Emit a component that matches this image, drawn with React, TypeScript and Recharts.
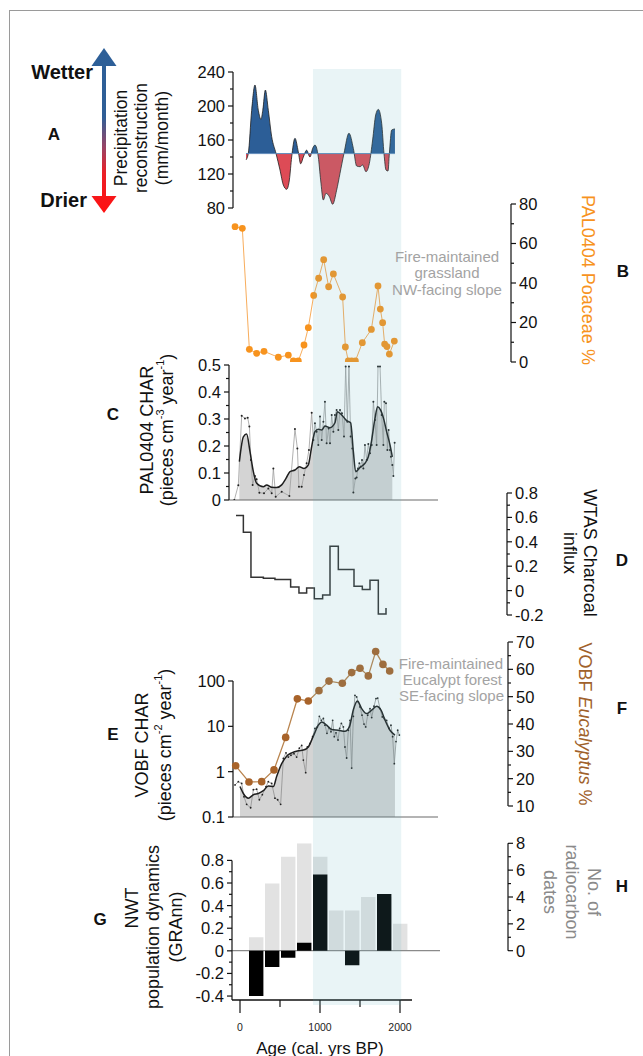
import React from 'react';
import { ComposedChart, Line, Area, Bar, XAxis, YAxis, ReferenceLine, ReferenceArea } from 'recharts';

const FONT = '"Liberation Sans", Arial, Helvetica, sans-serif';

// ---------- data (year BP, value) ----------
const precipitation: [number, number][] = [
  [75, 136.5], [104, 144.3], [146, 195], [187, 224.7], [229, 195], [262, 184.3], [285, 195], [317, 218.8],
  [354, 195], [396, 163.9], [450, 144.3], [500, 124.7], [542, 107], [583, 102], [617, 113], [646, 140],
  [687, 162], [729, 146], [758, 132], [792, 140], [833, 148], [875, 140], [908, 150], [937, 154],
  [979, 140], [1008, 113], [1042, 89.4], [1075, 97.3], [1117, 93.3], [1158, 84.4], [1208, 101],
  [1250, 120.8], [1300, 144.3], [1362, 168], [1417, 150], [1458, 129.4], [1500, 128.6], [1533, 130.6],
  [1575, 122.7], [1617, 132.6], [1658, 160], [1696, 189.4], [1729, 196], [1771, 179.6], [1800, 144],
  [1825, 124.7], [1850, 123.5], [1867, 144], [1896, 171.8], [1937, 173],
];
const precipMean = 144;

const poaceae: [number, number][] = [
  [-62, 68.5], [29, 67.7], [117, 6.4], [208, 4.4], [300, 5.4], [479, 2.4], [604, 3.5], [667, 0.5],
  [729, 0.5], [800, 8.6], [854, 17.4], [921, 33.7], [983, 42.4], [1046, 51.8], [1108, 38.1],
  [1167, 44.6], [1283, 32.9], [1317, 7.6], [1354, 0.5], [1396, 0.5], [1442, 0.5], [1529, 9.8],
  [1642, 16.5], [1725, 38.5], [1754, 26.8], [1783, 19.9], [1808, 9.1], [1837, 7.8], [1867, 4], [1929, 10.6],
];

const palCharRaw: [number, number][] = [
  [-71, 0], [-21, 0.055], [21, 0.312], [62, 0.302], [96, 0.305], [117, 0.272], [137, 0.148], [158, 0.056],
  [187, 0.089], [208, 0.077], [242, 0.027], [300, 0.025], [354, 0.043], [396, 0.025], [417, 0.117],
  [446, 0.012], [521, 0.031], [617, 0.015], [687, 0.263], [717, 0.191], [737, 0.049], [771, 0.049],
  [800, 0.093], [833, 0.136], [862, 0.185], [896, 0.323], [917, 0.222], [937, 0.284], [958, 0.253],
  [979, 0.204], [1000, 0.309], [1021, 0.222], [1042, 0.29], [1062, 0.364], [1083, 0.21], [1108, 0.265],
  [1125, 0.21], [1146, 0.315], [1167, 0.253], [1187, 0.315], [1208, 0.333], [1229, 0.259], [1250, 0.333],
  [1275, 0.321], [1300, 0.235], [1321, 0.494], [1342, 0.29], [1362, 0.494], [1383, 0.235], [1404, 0.191],
  [1417, 0.028], [1442, 0.08], [1458, 0.083], [1475, 0.117], [1492, 0.136], [1508, 0.123], [1525, 0.148],
  [1542, 0.117], [1562, 0.204], [1583, 0.148], [1604, 0.207], [1625, 0.173], [1646, 0.204], [1667, 0.364],
  [1687, 0.296], [1708, 0.204], [1725, 0.494], [1750, 0.494], [1771, 0.315], [1792, 0.204], [1804, 0.364],
  [1825, 0.358], [1842, 0.185], [1858, 0.259], [1875, 0.185], [1887, 0.16], [1904, 0.13], [1917, 0.089],
  [1933, 0.212],
];
const palCharSmooth: [number, number][] = [
  [-8, 0.142], [42, 0.234], [83, 0.244], [125, 0.179], [167, 0.105], [208, 0.062], [292, 0.049],
  [333, 0.056], [396, 0.047], [458, 0.046], [521, 0.056], [575, 0.08], [625, 0.105], [687, 0.111],
  [742, 0.123], [800, 0.117], [854, 0.13], [896, 0.198], [937, 0.253], [979, 0.262], [1021, 0.259],
  [1062, 0.274], [1125, 0.268], [1187, 0.286], [1217, 0.327], [1271, 0.315], [1333, 0.294], [1383, 0.286],
  [1417, 0.179], [1446, 0.105], [1500, 0.121], [1562, 0.136], [1604, 0.16], [1646, 0.222], [1687, 0.302],
  [1721, 0.345], [1758, 0.333], [1800, 0.296], [1833, 0.253], [1875, 0.204], [1904, 0.16],
];

const wtasInflux: [number, number][] = [
  [-50, 0.615], [42, 0.478], [137, 0.109], [292, 0.101], [437, 0.09], [633, 0.03], [737, -0.019],
  [833, 0.022], [929, -0.066], [1033, -0.036], [1125, 0.363], [1229, 0.172], [1425, 0.035],
  [1529, 0.008], [1625, 0.085], [1729, -0.191], [1825, -0.142],
];

const vobfCharRaw: [number, number][] = [
  [-62, 0.51], [-21, 0.6], [21, 0.55], [50, 0.28], [83, 0.19], [133, 0.16], [167, 0.4], [208, 0.41],
  [242, 0.24], [279, 0.31], [325, 0.47], [354, 0.6], [396, 0.55], [437, 0.26], [471, 0.24], [508, 0.19],
  [542, 1.96], [575, 2.6], [604, 2.1], [637, 2.3], [675, 2.5], [708, 2.1], [742, 3.3], [771, 3.8],
  [792, 1.8], [821, 0.95], [842, 3.5], [875, 4.2], [908, 5.9], [937, 9.0], [967, 9.7], [992, 16.6],
  [1017, 13.6], [1042, 14.9], [1062, 10.6], [1087, 7.0], [1112, 9.4], [1137, 7.6], [1158, 13.6],
  [1179, 5.9], [1200, 7.2], [1225, 5.0], [1246, 9.0], [1267, 11.6], [1292, 9.7], [1312, 3.5], [1333, 2.0],
  [1354, 8.2], [1375, 13.6], [1396, 1.2], [1417, 16.6], [1437, 48.4], [1458, 44.5], [1479, 34.6],
  [1500, 26.8], [1525, 17.6], [1550, 11.2], [1571, 9.7], [1596, 17.6], [1625, 24.6], [1646, 15.6],
  [1675, 27.8], [1700, 41], [1721, 42], [1750, 24.6], [1779, 16.1], [1804, 14.9], [1833, 13.6],
  [1862, 9.0], [1887, 10.6], [1908, 5.9], [1929, 1.5], [1950, 4.6], [1971, 8.2], [1992, 6.4],
];
const vobfCharSmooth: [number, number][] = [
  [0, 0.47], [42, 0.33], [104, 0.26], [167, 0.31], [229, 0.33], [292, 0.38], [354, 0.48], [417, 0.47],
  [458, 0.78], [521, 1.5], [583, 2.2], [646, 2.6], [729, 2.9], [792, 3.0], [854, 3.5], [917, 6.1],
  [979, 10.6], [1021, 12.5], [1083, 10.6], [1146, 8.5], [1229, 8.2], [1312, 7.8], [1367, 9.7],
  [1417, 23.4], [1467, 36.3], [1521, 24.6], [1583, 19.1], [1646, 22.7], [1708, 27.8], [1763, 22.7],
  [1813, 13.7], [1875, 8.2], [1937, 6.4],
];

const eucalyptus: [number, number][] = [
  [-54, 24.7], [112, 18.8], [271, 18.9], [425, 23.2], [571, 35.1], [717, 49.2], [854, 48.4], [987, 52.2],
  [1112, 55.7], [1279, 54.9], [1396, 58.8], [1500, 60.4], [1604, 57.6], [1696, 66.5], [1787, 61.8], [1871, 59.4],
];

const radiocarbonYears = [200, 400, 600, 800, 1000, 1200, 1400, 1600, 1800, 2000];
const radiocarbonDates = [1, 5, 7, 8, 7, 3, 3, 4, 4, 2];
const granYears = [200, 400, 600, 800, 1000, 1200, 1400, 1600, 1800];
const granValues = [-0.4, -0.144, -0.062, 0.071, 0.676, 0, -0.127, 0, 0.502];

const highlightBand = [912, 2015];

// ---------- ticks ----------
const aTicks = [80, 100, 120, 140, 160, 180, 200, 220, 240];
const aLabels = [80, 120, 160, 200, 240];
const bTicks = [0, 10, 20, 30, 40, 50, 60, 70, 80];
const bLabels = [0, 20, 40, 60, 80];
const cTicks = [0, 0.05, 0.1, 0.15, 0.2, 0.25, 0.3, 0.35, 0.4, 0.45, 0.5];
const cLabels = [0, 0.1, 0.2, 0.3, 0.4, 0.5];
const dTicks = [-0.2, -0.1, 0, 0.1, 0.2, 0.3, 0.4, 0.5, 0.6, 0.7, 0.8];
const dLabels = [-0.2, 0, 0.2, 0.4, 0.6, 0.8];
const eTicks = [0.1, 1, 10, 100];
const fTicks = [10, 15, 20, 25, 30, 35, 40, 45, 50, 55, 60, 65, 70];
const fLabels = [10, 20, 30, 40, 50, 60, 70];
const gTicks = [-0.4, -0.3, -0.2, -0.1, 0, 0.1, 0.2, 0.3, 0.4, 0.5, 0.6, 0.7, 0.8];
const gLabels = [-0.4, -0.2, 0, 0.2, 0.4, 0.6, 0.8];
const hTicks = [0, 1, 2, 3, 4, 5, 6, 7, 8];
const hLabels = [0, 2, 4, 6, 8];
const xTicks = [0, 500, 1000, 1500, 2000];
const xLabels = [0, 1000, 2000];

// ---------- helpers ----------
const toRows = (pairs: [number, number][]) => pairs.map(([yr, v]) => ({ yr, v }));
const zip = (xs: number[], vs: number[]) => xs.map((yr, i) => ({ yr, v: vs[i] }));

const X0 = 240; // pixel of year 0
const PX_PER_YR = 0.08;
const yrAt = (px: number) => (px - X0) / PX_PER_YR;
const AXW = 1; // y-axis box width

const fmtInt = (v: number) => String(Math.round(v));
const fmtDec = (v: number) => (Math.abs(v) < 1e-9 ? '0' : v.toFixed(1));
const fmtLog = (v: number) => (v < 1 ? '0.1' : String(v));

function makeTick(side: 'left' | 'right', labels: number[], fmt: (v: number) => string) {
  return (p: any) => {
    const v = p.payload.value;
    const major = labels.some((m) => Math.abs(m - v) < 1e-6);
    const dir = side === 'left' ? -1 : 1;
    const len = major ? 5 : 3;
    return (
      <g>
        <line x1={p.x} y1={p.y} x2={p.x + dir * len} y2={p.y} stroke="#111" strokeWidth={1.2} />
        {major && (
          <text x={p.x + dir * (len + 3)} y={p.y} dy="0.36em" textAnchor={side === 'left' ? 'end' : 'start'}
            fontSize={16.5} fontFamily={FONT} fill="#111">{fmt(v)}</text>
        )}
      </g>
    );
  };
}

const BottomTick = (p: any) => {
  const v = p.payload.value;
  const major = xLabels.includes(v);
  return (
    <g>
      <line x1={p.x} y1={p.y} x2={p.x} y2={p.y + (major ? 13 : 7)} stroke="#111" strokeWidth={1.2} />
      {major && (
        <text x={p.x} y={p.y + 27} dy="0.36em" textAnchor="middle" fontSize={10.5} fontFamily={FONT} fill="#222">{v}</text>
      )}
    </g>
  );
};

function yAxisEl(side: 'left' | 'right', domain: number[], ticks: number[], labels: number[], fmt: (v: number) => string, log = false) {
  return (
    <YAxis orientation={side} type="number" domain={domain} allowDataOverflow ticks={ticks} interval={0}
      width={AXW} tickSize={0} tickMargin={0} tickLine={false} scale={log ? 'log' : 'auto'}
      axisLine={{ stroke: '#111', strokeWidth: 1.2 }} tick={makeTick(side, labels, fmt)} />
  );
}

type PanelProps = {
  top: number; height: number; plotTop: number; plotBottom: number; left: number; right: number;
  side: 'left' | 'right'; data?: any[]; children: React.ReactNode;
};
function Panel({ top, height, plotTop, plotBottom, left, right, side, data, children }: PanelProps) {
  return (
    <div style={{ position: 'absolute', left: 0, top }}>
      <ComposedChart width={643} height={height} data={data}
        margin={{
          top: plotTop - top,
          bottom: top + height - plotBottom,
          left: side === 'left' ? left - AXW : left,
          right: side === 'right' ? 643 - right - AXW : 643 - right,
        }}>
        {children}
      </ComposedChart>
    </div>
  );
}

const hiddenX = (left: number, right: number) => (
  <XAxis type="number" dataKey="yr" domain={[yrAt(left), yrAt(right)]} allowDataOverflow hide />
);

function RotText({ x, y, angle, size = 18, color = '#111', children }: any) {
  return (
    <text x={x} y={y} transform={`rotate(${angle} ${x} ${y})`} textAnchor="middle" dominantBaseline="central"
      fontSize={size} fill={color} fontFamily={FONT}>{children}</text>
  );
}

function Letter({ x, y, children }: any) {
  return <text x={x} y={y} textAnchor="middle" dominantBaseline="central" fontSize={17} fontWeight="bold" fontFamily={FONT} fill="#111">{children}</text>;
}

export default function App() {
  const pVals = precipitation.map((p) => p[1]);
  const pMax = Math.max(...pVals);
  const pMin = Math.min(...pVals);
  const split = (pMax - precipMean) / (pMax - pMin);
  const precipRows = toRows(precipitation);
  const cSmooth = toRows(palCharSmooth);
  const eSmooth = toRows(vobfCharSmooth);

  return (
    <div style={{ position: 'absolute', left: 0, top: 0, width: 643, height: 1056, overflow: 'hidden', background: '#fff', fontFamily: FONT }}>
      <div style={{ position: 'absolute', left: 9, top: 10, width: 700, height: 1100, borderTop: '1.5px solid #9a9a9a', borderLeft: '1.5px solid #9a9a9a' }} />

      {/* A: precipitation */}
      <Panel top={60} height={160} plotTop={72} plotBottom={208} left={233} right={420} side="left">
        <defs>
          <linearGradient id="precipSplit" x1="0" y1="0" x2="0" y2="1">
            <stop offset={split} stopColor="#2c5e97" />
            <stop offset={split} stopColor="#dd4b56" />
          </linearGradient>
        </defs>
        {hiddenX(233, 420)}
        {yAxisEl('left', [80, 240], aTicks, aLabels, fmtInt)}
        <Area data={precipRows} dataKey="v" type="monotone" baseValue={precipMean} fill="url(#precipSplit)" fillOpacity={1}
          stroke="#1f1f1f" strokeWidth={0.8} dot={false} activeDot={false} isAnimationActive={false} />
        <ReferenceLine segment={[{ x: precipitation[0][0], y: precipMean }, { x: precipitation[precipitation.length - 1][0], y: precipMean }]}
          stroke="#5b87b9" strokeWidth={0.9} />
      </Panel>

      {/* B: Poaceae */}
      <Panel top={190} height={185} plotTop={204} plotBottom={362} left={225} right={511} side="right">
        {hiddenX(225, 511)}
        {yAxisEl('right', [0, 80], bTicks, bLabels, fmtInt)}
        <Line data={toRows(poaceae)} dataKey="v" type="linear" stroke="#f8ad5c" strokeWidth={1}
          dot={{ r: 3.4, fill: '#f7931e', stroke: 'none' }} activeDot={false} isAnimationActive={false} />
      </Panel>

      {/* C: PAL0404 CHAR */}
      <Panel top={350} height={160} plotTop={365} plotBottom={500} left={229} right={438} side="left">
        {hiddenX(229, 438)}
        {yAxisEl('left', [0, 0.5], cTicks, cLabels, fmtDec)}
        <Area data={cSmooth} dataKey="v" type="monotone" baseValue={0} fill="#d4d4d4" fillOpacity={1} stroke="none"
          dot={false} activeDot={false} isAnimationActive={false} />
        <Line data={toRows(palCharRaw)} dataKey="v" type="linear" stroke="#9d9d9d" strokeWidth={0.8}
          dot={{ r: 1, fill: '#222', stroke: 'none' }} activeDot={false} isAnimationActive={false} />
        <Line data={cSmooth} dataKey="v" type="monotone" stroke="#1e1e1e" strokeWidth={1.5} dot={false} activeDot={false} isAnimationActive={false} />
        <ReferenceLine y={0} stroke="#6a6a6a" strokeWidth={1.2} />
      </Panel>

      {/* D: WTAS charcoal influx */}
      <Panel top={480} height={150} plotTop={493} plotBottom={615} left={225} right={507} side="right">
        {hiddenX(225, 507)}
        {yAxisEl('right', [-0.2, 0.8], dTicks, dLabels, fmtDec)}
        <Line data={toRows(wtasInflux)} dataKey="v" type="stepAfter" stroke="#333" strokeWidth={1.5}
          dot={false} activeDot={false} isAnimationActive={false} />
      </Panel>

      {/* E: VOBF CHAR (log) */}
      <Panel top={660} height={170} plotTop={681} plotBottom={817} left={233} right={438} side="left">
        {hiddenX(233, 438)}
        {yAxisEl('left', [0.1, 100], eTicks, eTicks, fmtLog, true)}
        <Area data={eSmooth} dataKey="v" type="monotone" baseValue={0.1} fill="#d4d4d4" fillOpacity={1} stroke="none"
          dot={false} activeDot={false} isAnimationActive={false} />
        <Line data={toRows(vobfCharRaw)} dataKey="v" type="linear" stroke="#8f8f8f" strokeWidth={0.8}
          dot={{ r: 0.9, fill: '#222', stroke: 'none' }} activeDot={false} isAnimationActive={false} />
        <Line data={eSmooth} dataKey="v" type="monotone" stroke="#1e1e1e" strokeWidth={1.5} dot={false} activeDot={false} isAnimationActive={false} />
        <ReferenceLine y={0.1} stroke="#6a6a6a" strokeWidth={1.2} />
      </Panel>

      {/* F: Eucalyptus */}
      <Panel top={630} height={190} plotTop={642} plotBottom={806} left={225} right={508} side="right">
        {hiddenX(225, 508)}
        {yAxisEl('right', [10, 70], fTicks, fLabels, fmtInt)}
        <Line data={toRows(eucalyptus)} dataKey="v" type="linear" stroke="#b9844e" strokeWidth={1.3}
          dot={{ r: 3.8, fill: '#a8632a', stroke: 'none' }} activeDot={false} isAnimationActive={false} />
      </Panel>

      {/* H: radiocarbon dates */}
      <Panel top={830} height={226} plotTop={843.3} plotBottom={950.7} left={232} right={508} side="right" data={zip(radiocarbonYears, radiocarbonDates)}>
        {hiddenX(232, 508)}
        {yAxisEl('right', [0, 8], hTicks, hLabels, fmtInt)}
        <Bar dataKey="v" fill="#e2e2e2" barSize={16} isAnimationActive={false} />
        <ReferenceLine segment={[{ x: yrAt(232), y: 0 }, { x: yrAt(440), y: 0 }]} stroke="#8a8a8a" strokeWidth={1.2} />
      </Panel>

      {/* G: population dynamics + age axis */}
      <div style={{ position: 'absolute', left: 0, top: 830 }}>
        <ComposedChart width={643} height={226} data={zip(granYears, granValues)}
          margin={{ top: 30.4, bottom: 40, left: 232 - AXW, right: 643 - 412 }}>
          <XAxis type="number" dataKey="yr" domain={[yrAt(232), yrAt(412)]} allowDataOverflow ticks={xTicks} interval={0}
            height={16} tickSize={0} tickMargin={0} tickLine={false} axisLine={{ stroke: '#111', strokeWidth: 1.3 }} tick={BottomTick} />
          {yAxisEl('left', [-0.435, 0.8], gTicks, gLabels, fmtDec)}
          <Bar dataKey="v" fill="#000" barSize={16} isAnimationActive={false} />
        </ComposedChart>
      </div>

      {/* highlight band */}
      <div style={{ position: 'absolute', left: 0, top: 69, pointerEvents: 'none' }}>
        <ComposedChart width={643} height={936} data={[{ yr: highlightBand[0] }, { yr: highlightBand[1] }]}
          margin={{ top: 0, bottom: 0, left: 160, right: 163 }}>
          <XAxis type="number" dataKey="yr" domain={[yrAt(160), yrAt(480)]} allowDataOverflow hide />
          <YAxis type="number" domain={[0, 1]} allowDataOverflow hide />
          <ReferenceArea x1={highlightBand[0]} x2={highlightBand[1]} y1={0} y2={1} fill="#64afbe" fillOpacity={0.14} stroke="none" />
        </ComposedChart>
      </div>

      {/* text & decorations */}
      <svg width={643} height={1056} style={{ position: 'absolute', left: 0, top: 0, pointerEvents: 'none' }}>
        <defs>
          <linearGradient id="wetDry" gradientUnits="userSpaceOnUse" x1="0" y1="48" x2="0" y2="213">
            <stop offset="0" stopColor="#2d5f98" />
            <stop offset="0.42" stopColor="#2f5e96" />
            <stop offset="0.6" stopColor="#984466" />
            <stop offset="0.76" stopColor="#ec1f26" />
            <stop offset="1" stopColor="#ff1010" />
          </linearGradient>
        </defs>
        <rect x={102} y={62} width={4} height={138} fill="url(#wetDry)" />
        <polygon points="104,48 91.5,66 116.5,66" fill="url(#wetDry)" />
        <polygon points="104,213 91.5,196 116.5,196" fill="url(#wetDry)" />
        <text x={93} y={79} textAnchor="end" fontSize={20} fontWeight="bold" fontFamily={FONT} fill="#111">Wetter</text>
        <text x={87} y={207} textAnchor="end" fontSize={20} fontWeight="bold" fontFamily={FONT} fill="#111">Drier</text>

        <RotText x={121} y={138} angle={-90} size={17.5}>Precipitation</RotText>
        <RotText x={141} y={138} angle={-90} size={17.5}>reconstruction</RotText>
        <RotText x={162} y={138} angle={-90} size={17.5}>(mm/month)</RotText>

        <RotText x={588} y={280} angle={90} color="#f7931e">PAL0404 Poaceae %</RotText>
        <text x={447} y={256} textAnchor="middle" dominantBaseline="central" fontSize={15} fontFamily={FONT} fill="#a3a3a3">Fire-maintained</text>
        <text x={447} y={272.5} textAnchor="middle" dominantBaseline="central" fontSize={15} fontFamily={FONT} fill="#a3a3a3">grassland</text>
        <text x={447} y={289} textAnchor="middle" dominantBaseline="central" fontSize={15} fontFamily={FONT} fill="#a3a3a3">NW-facing slope</text>

        <RotText x={147} y={430} angle={-90}>PAL0404 CHAR</RotText>
        <RotText x={167} y={430} angle={-90}>
          (pieces cm<tspan dy="-7" fontSize={11}>-3</tspan><tspan dy="7"> year</tspan><tspan dy="-7" fontSize={11}>-1</tspan><tspan dy="7">)</tspan>
        </RotText>

        <RotText x={590} y={553} angle={90}>WTAS Charcoal</RotText>
        <RotText x={570} y={553} angle={90}>influx</RotText>

        <RotText x={142} y={745} angle={-90}>VOBF CHAR</RotText>
        <RotText x={165} y={745} angle={-90}>
          (pieces cm<tspan dy="-7" fontSize={11}>-2</tspan><tspan dy="7"> year</tspan><tspan dy="-7" fontSize={11}>-1</tspan><tspan dy="7">)</tspan>
        </RotText>

        <RotText x={585} y={724} angle={90} color="#a0612b">
          VOBF <tspan fontStyle="italic">Eucalyptus</tspan> %
        </RotText>
        <text x={503} y={663} textAnchor="end" dominantBaseline="central" fontSize={15} fontFamily={FONT} fill="#a3a3a3">Fire-maintained</text>
        <text x={502} y={679} textAnchor="end" dominantBaseline="central" fontSize={15} fontFamily={FONT} fill="#a3a3a3">Eucalypt forest</text>
        <text x={504} y={695} textAnchor="end" dominantBaseline="central" fontSize={15} fontFamily={FONT} fill="#a3a3a3">SE-facing slope</text>

        <RotText x={132} y={908} angle={-90}>NWT</RotText>
        <RotText x={153} y={927} angle={-90}>population dynamics</RotText>
        <RotText x={176} y={927} angle={-90}>(GRAnn)</RotText>

        <RotText x={594} y={892} angle={90} color="#8a8a8a">No. of</RotText>
        <RotText x={572} y={892} angle={90} color="#8a8a8a">radiocarbon</RotText>
        <RotText x={550} y={892} angle={90} color="#8a8a8a">dates</RotText>

        <text x={320} y={1048} textAnchor="middle" dominantBaseline="central" fontSize={17} fontFamily={FONT} fill="#111">Age (cal. yrs BP)</text>

        <Letter x={54} y={134}>A</Letter>
        <Letter x={623} y={271}>B</Letter>
        <Letter x={113} y={414}>C</Letter>
        <Letter x={622} y={560}>D</Letter>
        <Letter x={113} y={734}>E</Letter>
        <Letter x={622} y={708}>F</Letter>
        <Letter x={100} y={919}>G</Letter>
        <Letter x={622} y={886}>H</Letter>
      </svg>
    </div>
  );
}
